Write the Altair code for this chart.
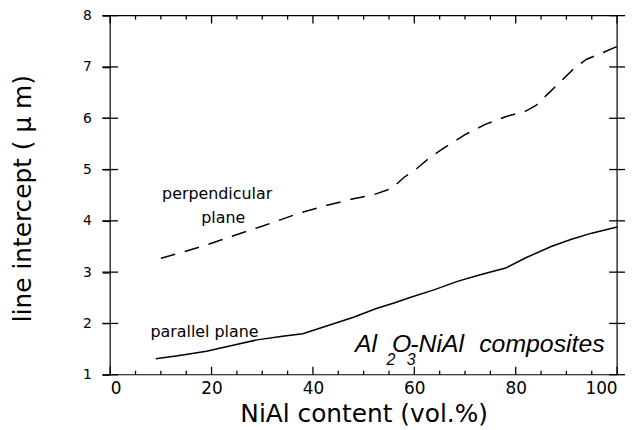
import altair as alt
import pandas as pd

# ---- data ----
perp_x = [10, 14, 19, 24, 29.5, 33, 37, 43, 48, 52, 55.5, 58, 60.5, 63, 66, 70, 74, 78, 82, 84, 86.5, 89, 91.5, 94, 97, 100]
perp_y = [3.27, 3.38, 3.53, 3.70, 3.88, 4.00, 4.14, 4.31, 4.43, 4.51, 4.63, 4.85, 5.02, 5.23, 5.43, 5.68, 5.88, 6.03, 6.14, 6.25, 6.49, 6.73, 6.97, 7.15, 7.27, 7.40]

par_x = [9, 14, 19, 24, 29, 34, 38, 43, 48, 52.5, 56, 59, 64, 68.5, 73, 78, 82, 87, 91, 95, 100]
par_y = [1.31, 1.38, 1.46, 1.57, 1.68, 1.75, 1.80, 1.96, 2.12, 2.29, 2.40, 2.50, 2.66, 2.82, 2.95, 3.08, 3.28, 3.50, 3.64, 3.76, 3.88]

x_major = [0, 20, 40, 60, 80, 100]
x_minor = [5, 10, 15, 25, 30, 35, 45, 50, 55, 65, 70, 75, 85, 90, 95]
y_ticks = [1, 2, 3, 4, 5, 6, 7, 8]

label_text = ["perpendicular", "plane", "parallel plane"]
label_x = [21.1, 22.3, 18.6]
label_y = [4.52, 4.05, 1.84]

ann_text = ["Al", "O", "-NiAl", "composites"]
ann_x = [48.3, 55.6, 59.2, 72.8]
ann_y = [1.444, 1.444, 1.444, 1.444]

sub_text = ["2", "3"]
sub_x = [54.5, 58.5]
sub_y = [1.19, 1.19]

# ---- chart ----
W, H = 511, 362
X0, X1, Y0, Y1 = 0, 100, 1, 8
xs = alt.Scale(domain=[X0, X1], nice=False, zero=False)
ys = alt.Scale(domain=[Y0, Y1], nice=False, zero=False)
px_x = (X1 - X0) / W   # data units per pixel
px_y = (Y1 - Y0) / H

x_enc = alt.X("x:Q", scale=xs, axis=alt.Axis(
    values=x_major, title="NiAl content (vol.%)", titleFontSize=25,
    titleFont="DejaVu Sans", titleFontWeight="normal", titleColor="black",
    titleY=47, titleBaseline="alphabetic",
    labelFontSize=17, labelFont="DejaVu Sans", labelColor="black", labelPadding=6,
    ticks=False, domain=False, grid=False))
y_enc = alt.Y("y:Q", scale=ys, axis=alt.Axis(
    values=y_ticks, title="line intercept (  \u03bc  m)", titleFontSize=25,
    titleFont="DejaVu Sans", titleFontWeight="normal", titleColor="black",
    titleX=-88, titleY=184, titleAngle=-90, titleAlign="center", titleBaseline="middle",
    labelFontSize=14, labelFont="DejaVu Sans", labelColor="black", labelPadding=11,
    ticks=True, tickSize=8, tickColor="black", tickWidth=1.2,
    domain=False, grid=False))

perp_df = pd.DataFrame({"x": perp_x, "y": perp_y})
par_df = pd.DataFrame({"x": par_x, "y": par_y})

perp_line = alt.Chart(perp_df).mark_line(color="black", strokeWidth=1.5, strokeDash=[15, 10]).encode(x=x_enc, y=y_enc)
par_line = alt.Chart(par_df).mark_line(color="black", strokeWidth=1.5).encode(x=x_enc, y=y_enc)

# frame around the plot area
frame_v = alt.Chart(pd.DataFrame({"x": [X0, X1], "y": [Y0, Y0], "y2": [Y1, Y1]})).mark_rule(
    color="black", strokeWidth=1.2).encode(x=x_enc, y=y_enc, y2="y2:Q")
frame_h = alt.Chart(pd.DataFrame({"x": [X0, X0], "x2": [X1, X1], "y": [Y0, Y1]})).mark_rule(
    color="black", strokeWidth=1.2).encode(x=x_enc, x2="x2:Q", y=y_enc)


def hticks(xv, yv, half_px):
    df = pd.DataFrame({"x": [v - half_px * px_x for v in xv], "x2": [v + half_px * px_x for v in xv], "y": yv})
    return alt.Chart(df).mark_rule(color="black", strokeWidth=1.3).encode(x=x_enc, x2="x2:Q", y=y_enc)


def vticks(xv, yv, len_px, sign):
    df = pd.DataFrame({"x": xv, "y": yv, "y2": [v + sign * len_px * px_y for v in yv]})
    return alt.Chart(df).mark_rule(color="black", strokeWidth=1.3).encode(x=x_enc, y=y_enc, y2="y2:Q")


ytick = hticks([X0] * len(y_ticks) + [X1] * len(y_ticks), y_ticks + y_ticks, 8)
bmaj = vticks(x_major, [Y0] * len(x_major), 8, 1)
tmaj = vticks(x_major, [Y1] * len(x_major), 8, -1)
bmin = vticks(x_minor, [Y0] * len(x_minor), 4, 1)
tmin = vticks(x_minor, [Y1] * len(x_minor), 4, -1)

labels = alt.Chart(pd.DataFrame({"x": label_x, "y": label_y, "t": label_text})).mark_text(
    font="DejaVu Sans", fontSize=16, color="black", align="center", baseline="middle").encode(
    x=x_enc, y=y_enc, text="t:N")

ann = alt.Chart(pd.DataFrame({"x": ann_x, "y": ann_y, "t": ann_text})).mark_text(
    font="Liberation Sans", fontSize=25, fontStyle="italic", color="black", align="left",
    baseline="alphabetic").encode(x=x_enc, y=y_enc, text="t:N")
sub = alt.Chart(pd.DataFrame({"x": sub_x, "y": sub_y, "t": sub_text})).mark_text(
    font="Liberation Sans", fontSize=16, fontStyle="italic", color="black", align="left",
    baseline="alphabetic").encode(x=x_enc, y=y_enc, text="t:N")

chart = alt.layer(frame_v, frame_h, ytick, bmaj, tmaj, bmin, tmin, perp_line, par_line, labels, ann, sub).properties(
    width=W, height=H,
    padding={"left": 103, "top": 6, "right": 12, "bottom": 54},
    autosize=alt.AutoSizeParams(type="none"),
).configure_view(strokeWidth=0)

chart.save("out.html", embed_options={"renderer": "svg", "actions": False})
